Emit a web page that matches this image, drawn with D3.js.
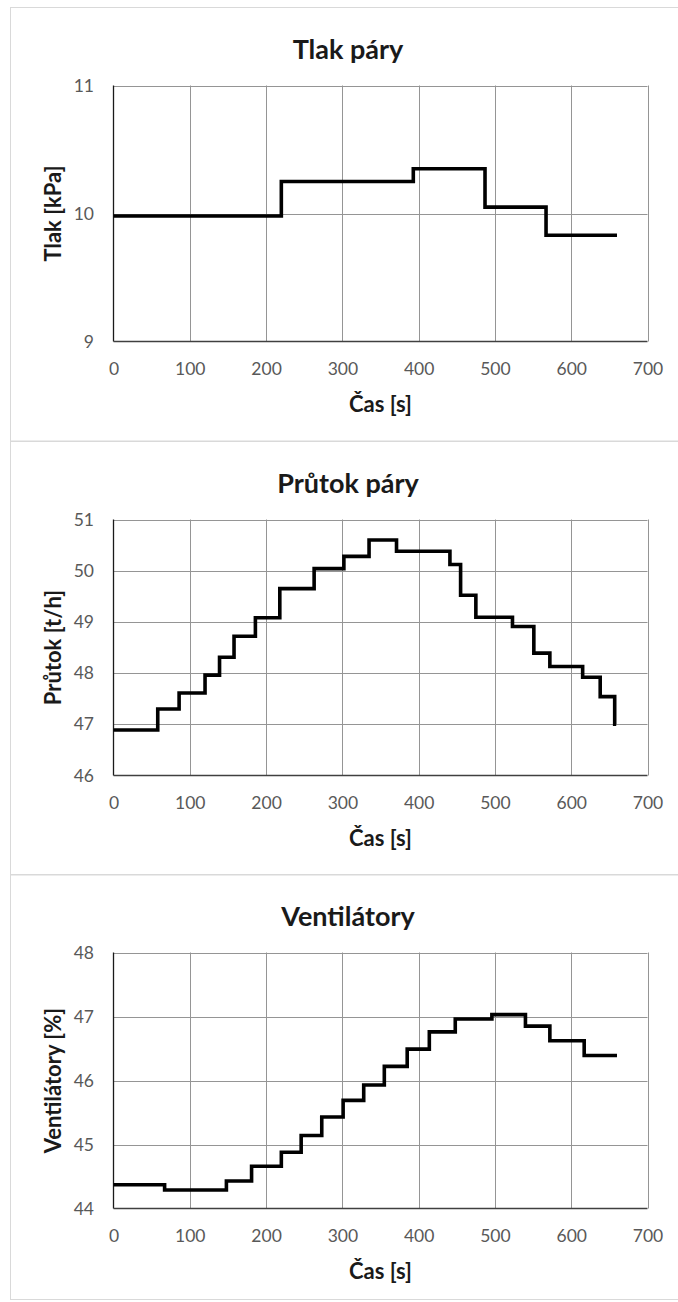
<!DOCTYPE html>
<html>
<head>
<meta charset="utf-8">
<script src="https://cdn.jsdelivr.net/npm/d3@7"></script>
<style>
  html, body { margin: 0; padding: 0; background: #fff; }
  svg { display: block; }
</style>
</head>
<body>
<svg id="chart" width="678" height="1302"></svg>
<script>
// ---------------- DATA ----------------
const xTicks = [0, 100, 200, 300, 400, 500, 600, 700];
const xTitle = "Čas [s]";

// Chart 1: Tlak páry
const tlakTitle = "Tlak páry";
const tlakYTitle = "Tlak [kPa]";
const tlakYTicks = [9, 10, 11];
const tlakTime  = [0, 220, 393, 487, 567, 660];
const tlakValue = [9.98, 10.25, 10.35, 10.05, 9.83, 9.83];

// Chart 2: Průtok páry
const prutokTitle = "Průtok páry";
const prutokYTitle = "Průtok [t/h]";
const prutokYTicks = [46, 47, 48, 49, 50, 51];
const prutokTime  = [0, 58, 86, 120, 139, 158, 186, 218, 263, 302, 335, 371, 441, 455, 475, 523, 551, 572, 615, 638, 657, 659];
const prutokValue = [46.89, 47.30, 47.61, 47.96, 48.31, 48.72, 49.08, 49.65, 50.04, 50.28, 50.60, 50.38, 50.12, 49.52, 49.09, 48.91, 48.39, 48.13, 47.92, 47.54, 47.00, 47.00];

// Chart 3: Ventilátory
const ventTitle = "Ventilátory";
const ventYTitle = "Ventilátory [%]";
const ventYTicks = [44, 45, 46, 47, 48];
const ventTime  = [0, 67, 148, 181, 220, 246, 273, 301, 328, 355, 385, 414, 448, 496, 540, 572, 617, 660];
const ventValue = [44.37, 44.29, 44.43, 44.66, 44.88, 45.14, 45.43, 45.69, 45.93, 46.22, 46.49, 46.76, 46.96, 47.03, 46.85, 46.62, 46.39, 46.39];

// ---------------- LAYOUT ----------------
const svg = d3.select("#chart");
const FONT = "Lato, 'Open Sans', sans-serif";
const plotLeft = 113.5, plotRight = 647.5;
const panelH = 433.5;

const charts = [
  { title: tlakTitle,   yTitle: tlakYTitle,   ticks: tlakYTicks,   t: tlakTime,   v: tlakValue },
  { title: prutokTitle, yTitle: prutokYTitle, ticks: prutokYTicks, t: prutokTime, v: prutokValue },
  { title: ventTitle,   yTitle: ventYTitle,   ticks: ventYTicks,   t: ventTime,   v: ventValue }
];

charts.forEach((c, i) => {
  const off = i * panelH;
  const top = Math.round(85 + off) + 0.5;
  const bottom = Math.round(341 + off) + 0.5;
  const g = svg.append("g");

  // panel border
  const py = Math.round(7 + off) + 0.5;
  g.append("rect")
    .attr("x", 10.5).attr("y", py)
    .attr("width", 680).attr("height", i === 2 ? 1299.5 - py : panelH)
    .attr("fill", "none").attr("stroke", "#d9d9d9").attr("stroke-width", 1);

  const x = d3.scaleLinear().domain([0, 700]).range([plotLeft, plotRight]);
  const y = d3.scaleLinear().domain([c.ticks[0], c.ticks[c.ticks.length - 1]]).range([bottom, top]);

  // gridlines
  g.append("g").selectAll("line").data(c.ticks.slice(1)).join("line")
    .attr("x1", plotLeft).attr("x2", plotRight)
    .attr("y1", d => Math.round(y(d)) + 0.5).attr("y2", d => Math.round(y(d)) + 0.5)
    .attr("stroke", "#959595").attr("stroke-width", 1);
  g.append("g").selectAll("line").data(xTicks.slice(1)).join("line")
    .attr("x1", d => Math.round(x(d)) + 0.5).attr("x2", d => Math.round(x(d)) + 0.5)
    .attr("y1", top).attr("y2", bottom)
    .attr("stroke", "#959595").attr("stroke-width", 1);

  // axis lines
  g.append("line").attr("x1", plotLeft).attr("x2", plotLeft).attr("y1", top).attr("y2", bottom)
    .attr("stroke", "#1a1a1a").attr("stroke-width", 1.3);
  g.append("line").attr("x1", plotLeft).attr("x2", plotRight).attr("y1", bottom).attr("y2", bottom)
    .attr("stroke", "#404040").attr("stroke-width", 1.3);

  // axes (labels only)
  const yAxis = g.append("g").attr("transform", `translate(${plotLeft},0)`)
    .call(d3.axisLeft(y).tickValues(c.ticks).tickSize(0).tickPadding(19.5).tickFormat(d3.format("d")));
  const xAxis = g.append("g").attr("transform", `translate(0,${bottom})`)
    .call(d3.axisBottom(x).tickValues(xTicks).tickSize(0).tickPadding(21).tickFormat(d3.format("d")));
  [yAxis, xAxis].forEach(a => {
    a.select(".domain").remove();
    a.selectAll("text").attr("font-family", FONT).attr("font-size", 17.5).attr("fill", "#595959");
  });

  // step line
  const pts = c.t.map((t, k) => [t, c.v[k]]);
  g.append("path").datum(pts)
    .attr("d", d3.line().x(d => x(d[0])).y(d => y(d[1])).curve(d3.curveStepAfter))
    .attr("fill", "none").attr("stroke", "#000").attr("stroke-width", 3.6)
    .attr("stroke-linejoin", "miter");

  // titles
  g.append("text").attr("x", 348).attr("y", top - 26.5)
    .attr("text-anchor", "middle").attr("font-family", FONT).attr("font-weight", 700)
    .attr("font-size", 27).attr("fill", "#1a1a1a").text(c.title);
  g.append("text").attr("x", (plotLeft + plotRight) / 2).attr("y", bottom + 70)
    .attr("text-anchor", "middle").attr("font-family", FONT).attr("font-weight", 700)
    .attr("font-size", 22).attr("fill", "#1a1a1a").text(xTitle);
  g.append("text")
    .attr("transform", `translate(${61},${(top + bottom) / 2}) rotate(-90)`)
    .attr("text-anchor", "middle").attr("font-family", FONT).attr("font-weight", 700)
    .attr("font-size", 22).attr("fill", "#1a1a1a").text(c.yTitle);
});
</script>
</body>
</html>
